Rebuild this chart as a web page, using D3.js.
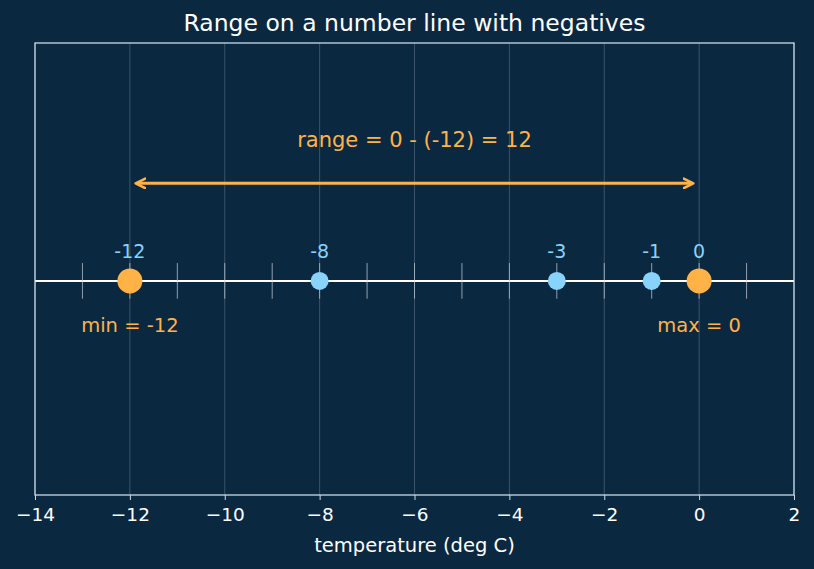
<!DOCTYPE html>
<html>
<head>
<meta charset="utf-8">
<script src="https://cdn.jsdelivr.net/npm/d3@7"></script>
<style>
  body { margin: 0; background: #0b2841; }
  svg { display: block; font-family: "DejaVu Sans", sans-serif; }
</style>
</head>
<body>
<div class="canvas"></div>
<script>
const values = [-12, -8, -3, -1, 0];
const extremes = [-12, 0];
const xTicks = [-14, -12, -10, -8, -6, -4, -2, 0, 2];
const minorTicks = d3.range(-13, 2);
const title = "Range on a number line with negatives";
const xLabel = "temperature (deg C)";
const rangeLabel = "range = 0 - (-12) = 12";

const dims = { width: 814, height: 569 };
const margin = { top: 43, right: 20, bottom: 74, left: 35 };
const bg = "#0b2841";
const orange = "#ffb347";
const blue = "#87d3fb";
const frame = "#c9dbea";

const svg = d3
  .select(".canvas")
  .append("svg")
  .attr("width", dims.width)
  .attr("height", dims.height);

svg.append("rect").attr("width", dims.width).attr("height", dims.height).attr("fill", bg);

const x = d3.scaleLinear().domain([-14, 2]).range([margin.left, dims.width - margin.right]);
const y = d3.scaleLinear().domain([-0.9, 1.0]).range([dims.height - margin.bottom, margin.top]);

// grid
svg
  .append("g")
  .selectAll("line")
  .data(xTicks)
  .join("line")
  .attr("x1", (d) => x(d))
  .attr("x2", (d) => x(d))
  .attr("y1", y(-0.9))
  .attr("y2", y(1.0))
  .attr("stroke", "#8fa3b5")
  .attr("stroke-opacity", 0.45)
  .attr("stroke-width", 0.8);

// number line
svg
  .append("line")
  .attr("x1", x(-14))
  .attr("x2", x(2))
  .attr("y1", y(0))
  .attr("y2", y(0))
  .attr("stroke", "#ffffff")
  .attr("stroke-width", 2);

// integer ticks
svg
  .append("g")
  .selectAll("line")
  .data(minorTicks)
  .join("line")
  .attr("x1", (d) => x(d))
  .attr("x2", (d) => x(d))
  .attr("y1", y(-0.075))
  .attr("y2", y(0.075))
  .attr("stroke", "#c9d3dc")
  .attr("stroke-opacity", 0.7)
  .attr("stroke-width", 1);

// points
svg
  .append("g")
  .selectAll("circle")
  .data(values)
  .join("circle")
  .attr("cx", (d) => x(d))
  .attr("cy", y(0))
  .attr("r", (d) => (extremes.includes(d) ? 12.5 : 9))
  .attr("fill", (d) => (extremes.includes(d) ? orange : blue));

svg
  .append("g")
  .selectAll("text")
  .data(values)
  .join("text")
  .attr("x", (d) => x(d))
  .attr("y", y(0.12))
  .attr("text-anchor", "middle")
  .attr("dominant-baseline", "middle")
  .attr("font-size", 19)
  .attr("fill", blue)
  .text((d) => d);

// min / max labels
svg
  .append("text")
  .attr("x", x(-12))
  .attr("y", y(-0.19))
  .attr("text-anchor", "middle")
  .attr("dominant-baseline", "middle")
  .attr("font-size", 19.5)
  .attr("fill", orange)
  .text("min = -12");

svg
  .append("text")
  .attr("x", x(0))
  .attr("y", y(-0.19))
  .attr("text-anchor", "middle")
  .attr("dominant-baseline", "middle")
  .attr("font-size", 19.5)
  .attr("fill", orange)
  .text("max = 0");

// range arrow
const defs = svg.append("defs");
defs
  .append("marker")
  .attr("id", "head")
  .attr("viewBox", "0 0 10 10")
  .attr("refX", 8)
  .attr("refY", 5)
  .attr("markerWidth", 4)
  .attr("markerHeight", 4)
  .attr("orient", "auto-start-reverse")
  .append("path")
  .attr("d", "M1,1 L9,5 L1,9")
  .attr("fill", "none")
  .attr("stroke", orange)
  .attr("stroke-width", 2.2)
  .attr("stroke-linejoin", "round")
  .attr("stroke-linecap", "round");

svg
  .append("line")
  .attr("x1", x(-12) + 7)
  .attr("x2", x(0) - 7)
  .attr("y1", y(0.41))
  .attr("y2", y(0.41))
  .attr("stroke", orange)
  .attr("stroke-width", 3)
  .attr("marker-start", "url(#head)")
  .attr("marker-end", "url(#head)");

svg
  .append("text")
  .attr("x", x(-6))
  .attr("y", y(0.59))
  .attr("text-anchor", "middle")
  .attr("dominant-baseline", "middle")
  .attr("font-size", 21)
  .attr("fill", orange)
  .text(rangeLabel);

// frame
svg
  .append("rect")
  .attr("x", x(-14))
  .attr("y", y(1.0))
  .attr("width", x(2) - x(-14))
  .attr("height", y(-0.9) - y(1.0))
  .attr("fill", "none")
  .attr("stroke", frame)
  .attr("stroke-width", 1.3);

// x axis
const xAxis = d3
  .axisBottom(x)
  .tickValues(xTicks)
  .tickSize(5)
  .tickPadding(8)
  .tickFormat((d) => d3.format("d")(d).replace("-", "\u2212"));

const axisG = svg
  .append("g")
  .attr("transform", `translate(0, ${y(-0.9)})`)
  .call(xAxis);
axisG.select(".domain").remove();
axisG.selectAll("line").attr("stroke", frame);
axisG.selectAll("text").attr("fill", "#ffffff").attr("font-size", 18.5).attr("font-family", "DejaVu Sans");

svg
  .append("text")
  .attr("x", (x(-14) + x(2)) / 2)
  .attr("y", 546)
  .attr("text-anchor", "middle")
  .attr("dominant-baseline", "middle")
  .attr("font-size", 19.5)
  .attr("fill", "#ffffff")
  .text(xLabel);

svg
  .append("text")
  .attr("x", (x(-14) + x(2)) / 2)
  .attr("y", 24)
  .attr("text-anchor", "middle")
  .attr("dominant-baseline", "middle")
  .attr("font-size", 23.5)
  .attr("fill", "#ffffff")
  .text(title);
</script>
</body>
</html>
